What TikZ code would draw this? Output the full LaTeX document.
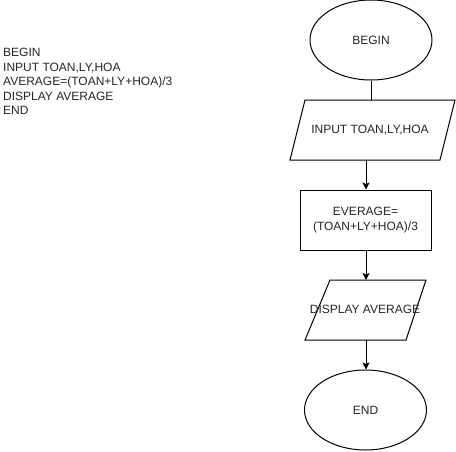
\documentclass[tikz,border=0pt]{standalone}
\usepackage{fontspec}
\setmainfont{Liberation Sans}
\usetikzlibrary{shapes.geometric,arrows.meta}
\begin{document}
\begin{tikzpicture}[x=1pt,y=-1pt,
  every node/.style={font=\fontsize{12}{14.4}\selectfont, text=black!85},
  shapeline/.style={draw=black, line width=1pt},
  terminal/.style={shapeline, ellipse, minimum width=122pt, minimum height=80pt, inner sep=0pt},
  process/.style={shapeline, rectangle, minimum width=131pt, minimum height=60pt, inner sep=0pt, align=center},
  flow/.style={draw=black, line width=1pt},
  flowarrow/.style={flow, -{Stealth[length=7pt,width=7pt,inset=1.5pt]}}
]
\useasboundingbox (0,0) rectangle (456,451);
\fill[white] (0,0) rectangle (456,451);

% pseudocode listing
\node[anchor=north west, align=left, inner sep=0pt] (code) at (3,48.3)
  {BEGIN\\INPUT TOAN,LY,HOA\\AVERAGE=(TOAN+LY+HOA)/3\\DISPLAY AVERAGE\\END};

% start
\node[terminal] (begin) at (371,40) {BEGIN};

% input parallelogram
\draw[shapeline] (305,100) -- (455,100) -- (440,160) -- (290,160) -- cycle;
\coordinate (inTop) at (371,100);
\coordinate (inBot) at (366,160);
\node (input) at (370,130) {INPUT TOAN,LY,HOA};

% computation
\node[process] (calc) at (365.5,220) {EVERAGE=\\(TOAN+LY+HOA)/3};

% output parallelogram
\draw[shapeline] (330,280) -- (426,280) -- (406,340) -- (305,340) -- cycle;
\coordinate (outTop) at (366,280);
\coordinate (outBot) at (366,340);
\node (output) at (365,309) {DISPLAY AVERAGE};

% stop
\node[terminal] (end) at (365.5,410) {END};

% connectors
\draw[flow] (begin.south) -- (inTop);
\draw[flowarrow] (inBot) -- (inBot |- calc.north);
\draw[flowarrow] (inBot |- calc.south) -- (outTop);
\draw[flowarrow] (outBot) -- (outBot |- end.north);
\end{tikzpicture}
\end{document}
